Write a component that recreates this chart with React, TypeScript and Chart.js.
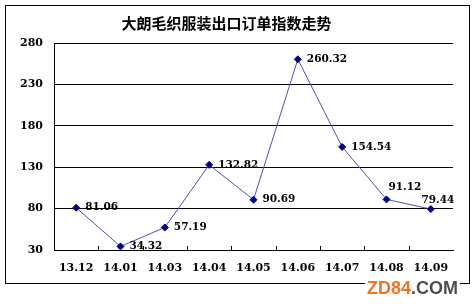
import React, { useEffect, useRef } from "react";
import { Chart, registerables } from "chart.js";

Chart.register(...registerables);

const chartTitle = "大朗毛织服装出口订单指数走势";
const categories = ["13.12", "14.01", "14.03", "14.04", "14.05", "14.06", "14.07", "14.08", "14.09"];
const indexValues = [81.06, 34.32, 57.19, 132.82, 90.69, 260.32, 154.54, 91.12, 79.44];
const valueLabels = ["81.06", "34.32", "57.19", "132.82", "90.69", "260.32", "154.54", "91.12", "79.44"];
const labelPlacement = ["right", "right", "right", "right", "right", "right", "right", "aboveRight", "above"];
const yTicks = [30, 80, 130, 180, 230, 280];

const W = 472;
const H = 308;

const framePlugin = {
  id: "frame",
  beforeDraw(chart: any) {
    const ctx = chart.ctx;
    ctx.save();
    ctx.fillStyle = "#ffffff";
    ctx.fillRect(0, 0, chart.width, chart.height);
    ctx.strokeStyle = "#000000";
    ctx.lineWidth = 1;
    ctx.strokeRect(5.5, 5.5, chart.width - 8, chart.height - 30);
    ctx.restore();
  },
};

const innerTicksPlugin = {
  id: "innerTicks",
  afterDatasetsDraw(chart: any) {
    const xs = chart.scales.x;
    const area = chart.chartArea;
    const ctx = chart.ctx;
    ctx.save();
    ctx.strokeStyle = "#000000";
    ctx.lineWidth = 1;
    for (let i = 1; i < categories.length; i++) {
      const x = Math.round((xs.getPixelForTick(i - 1) + xs.getPixelForTick(i)) / 2) + 0.5;
      ctx.beginPath();
      ctx.moveTo(x, area.bottom);
      ctx.lineTo(x, area.bottom - 4);
      ctx.stroke();
    }
    ctx.restore();
  },
};

const dataLabelPlugin = {
  id: "dataLabels",
  afterDatasetsDraw(chart: any) {
    const meta = chart.getDatasetMeta(0);
    const ctx = chart.ctx;
    ctx.save();
    ctx.fillStyle = "#000000";
    ctx.font = "bold 10.5px 'DejaVu Serif', serif";
    ctx.textBaseline = "middle";
    meta.data.forEach((pt: any, i: number) => {
      const txt = valueLabels[i];
      const place = labelPlacement[i];
      if (place === "aboveRight") {
        ctx.textAlign = "left";
        ctx.fillText(txt, pt.x + 2, pt.y - 12);
      } else if (place === "above") {
        ctx.textAlign = "center";
        ctx.fillText(txt, pt.x + 7, pt.y - 9);
      } else {
        ctx.textAlign = "left";
        ctx.fillText(txt, pt.x + 9, pt.y);
      }
    });
    ctx.restore();
  },
};

export default function App() {
  const canvasRef = useRef<HTMLCanvasElement | null>(null);

  useEffect(() => {
    if (!canvasRef.current) return;
    const chart = new Chart(canvasRef.current, {
      type: "line",
      data: {
        labels: categories,
        datasets: [
          {
            data: indexValues,
            borderColor: "#5050bc",
            borderWidth: 1,
            pointStyle: "rectRot",
            pointRadius: 3.5,
            pointBackgroundColor: "#000080",
            pointBorderColor: "#000080",
            pointBorderWidth: 1,
            tension: 0,
          },
        ],
      },
      options: {
        responsive: false,
        animation: false,
        layout: { padding: { left: 0, right: 19, top: 0, bottom: 0 } },
        plugins: {
          legend: { display: false },
          tooltip: { enabled: false },
          title: {
            display: true,
            text: chartTitle,
            color: "#000000",
            font: { family: "'Noto Sans CJK SC', sans-serif", size: 15, weight: "bold" },
            padding: { top: 14, bottom: 11 },
          },
        },
        scales: {
          x: {
            type: "category",
            offset: true,
            grid: { display: false, drawTicks: false },
            border: { display: true, color: "#000000", width: 1 },
            ticks: {
              color: "#000000",
              padding: 12,
              maxRotation: 0,
              autoSkip: false,
              font: { family: "'DejaVu Serif', serif", size: 11, weight: "bold" },
            },
            afterFit(scale: any) {
              scale.height = 58;
            },
          },
          y: {
            min: yTicks[0],
            max: yTicks[yTicks.length - 1],
            grid: { color: "#000000", lineWidth: 1, drawTicks: false },
            border: { display: true, color: "#000000", width: 1 },
            ticks: {
              stepSize: yTicks[1] - yTicks[0],
              color: "#000000",
              padding: 11,
              font: { family: "'DejaVu Serif', serif", size: 11, weight: "bold" },
            },
            afterFit(scale: any) {
              scale.width = 54;
            },
          },
        },
      },
      plugins: [framePlugin, innerTicksPlugin, dataLabelPlugin],
    });
    return () => chart.destroy();
  }, []);

  return (
    <div style={{ position: "fixed", left: 0, top: 0, width: W, height: H, background: "#fff" }}>
      <canvas ref={canvasRef} width={W} height={H} style={{ width: W, height: H, display: "block" }} />
      <span
        style={{
          position: "absolute",
          left: 365,
          top: 279,
          background: "#fff",
          padding: "0 2px",
          fontFamily: "'Liberation Sans', Arial, sans-serif",
          fontWeight: "bold",
          fontSize: 18,
          lineHeight: "18px",
          whiteSpace: "nowrap",
        }}
      >
        <span style={{ color: "#f47320" }}>ZD84</span>
        <span style={{ color: "#4d4d4d" }}>.COM</span>
      </span>
    </div>
  );
}
